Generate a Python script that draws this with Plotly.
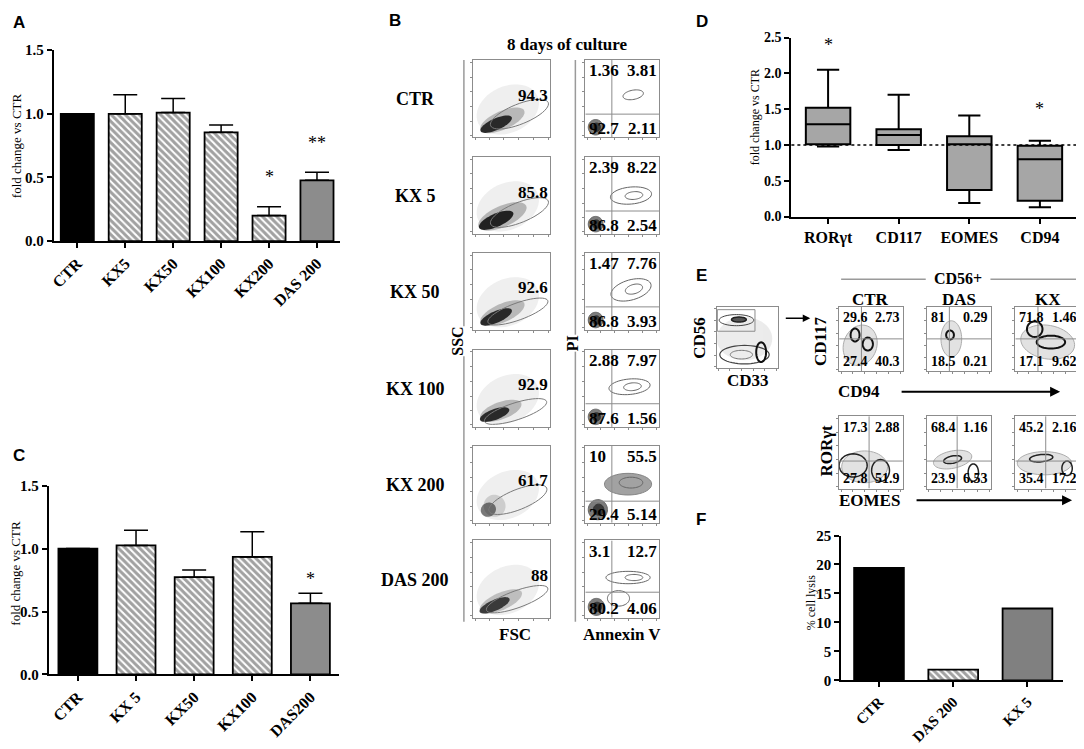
import numpy as np
import plotly.graph_objects as go

# the page body keeps its default 8px margin, so the figure is placed at (8, 8)
PAGE_W, PAGE_H = 1084, 749
OFF = 8
W, H = PAGE_W - OFF, PAGE_H - OFF
SERIF = "Liberation Serif"
SANS = "Liberation Sans"

# ---- A: fold change vs CTR ----
a_groups = ["CTR", "KX5", "KX50", "KX100", "KX200", "DAS 200"]
a_values = [1.0, 1.0, 1.01, 0.855, 0.20, 0.477]
a_err = [0.0, 0.15, 0.11, 0.058, 0.07, 0.064]
a_star_y = [None, None, None, None, 0.50, 0.77]
a_stars = ["", "", "", "", "*", "**"]

# ---- C: fold change vs CTR ----
c_groups = ["CTR", "KX 5", "KX50", "KX100", "DAS200"]
c_values = [1.0, 1.025, 0.773, 0.934, 0.565]
c_err = [0.0, 0.12, 0.057, 0.20, 0.08]
c_star_y = [None, None, None, None, 0.76]
c_stars = ["", "", "", "", "*"]

# ---- D: box plots ----
d_markers = ["RORγt", "CD117", "EOMES", "CD94"]
d_min = [0.98, 0.93, 0.19, 0.13]
d_q1 = [1.01, 1.00, 0.37, 0.22]
d_med = [1.29, 1.14, 1.01, 0.80]
d_q3 = [1.52, 1.22, 1.12, 0.99]
d_max = [2.05, 1.70, 1.41, 1.06]
d_star_y = [2.39, None, None, 1.50]
d_stars = ["*", "", "", "*"]

# ---- F: % cell lysis ----
f_groups = ["CTR", "DAS 200", "KX 5"]
f_lysis = [19.4, 1.85, 12.4]

# ---- B: flow cytometry, 8 days of culture ----
b_conditions = ["CTR", "KX 5", "KX 50", "KX 100", "KX 200", "DAS 200"]
b_gate_pct = ["94.3", "85.8", "92.6", "92.9", "61.7", "88"]
b_ul = ["1.36", "2.39", "1.47", "2.88", "10", "3.1"]
b_ur = ["3.81", "8.22", "7.76", "7.97", "55.5", "12.7"]
b_ll = ["92.7", "86.8", "86.8", "87.6", "29.4", "80.2"]
b_lr = ["2.11", "2.54", "3.93", "1.56", "5.14", "4.06"]

# ---- E: CD56+ phenotype ----
e_conditions = ["CTR", "DAS", "KX"]
e_cd117_cd94 = [["29.6", "2.73", "27.4", "40.3"],
                ["81", "0.29", "18.5", "0.21"],
                ["71.8", "1.46", "17.1", "9.62"]]
e_ror_eomes = [["17.3", "2.88", "27.8", "51.9"],
               ["68.4", "1.16", "23.9", "6.53"],
               ["45.2", "2.16", "35.4", "17.2"]]

# sketch of the cell populations drawn in the flow plots (cx, cy, rx, ry, angle)
fsc_core = [(0.30, 0.17, 0.22, 0.075, 24, 0.9), (0.30, 0.18, 0.24, 0.085, 24, 0.95),
            (0.30, 0.17, 0.22, 0.075, 24, 0.9), (0.28, 0.16, 0.20, 0.07, 20, 0.9),
            (0.20, 0.17, 0.10, 0.09, 30, 0.55), (0.28, 0.16, 0.21, 0.07, 24, 0.8)]
fsc_gate = [(0.60, 0.30, 0.40, 0.13, 22), (0.60, 0.28, 0.40, 0.13, 22),
            (0.58, 0.24, 0.41, 0.11, 20), (0.55, 0.20, 0.42, 0.11, 18),
            (0.58, 0.30, 0.40, 0.13, 22), (0.57, 0.24, 0.42, 0.11, 20)]
anx_rings = [[(0.65, 0.55, 0.14, 0.06, 10)],
             [(0.62, 0.50, 0.28, 0.11, 5), (0.66, 0.50, 0.12, 0.05, 5)],
             [(0.62, 0.52, 0.28, 0.13, 15), (0.66, 0.53, 0.12, 0.06, 15)],
             [(0.60, 0.52, 0.28, 0.10, 5), (0.64, 0.52, 0.12, 0.05, 5)],
             [(0.58, 0.50, 0.32, 0.14, 0), (0.62, 0.52, 0.16, 0.07, 0)],
             [(0.58, 0.52, 0.30, 0.08, 0), (0.66, 0.52, 0.12, 0.04, 0), (0.45, 0.25, 0.15, 0.10, 0)]]
anx_core = [(0.14, 0.13, 0.10, 0.10), (0.14, 0.13, 0.10, 0.10), (0.14, 0.13, 0.10, 0.10),
            (0.14, 0.13, 0.10, 0.10), (0.17, 0.17, 0.13, 0.13), (0.15, 0.14, 0.11, 0.11)]
anx_hline = [0.30, 0.30, 0.30, 0.30, 0.28, 0.33]

fig = go.Figure()
annotations = []
shapes = []
axis_n = [0]


def px(v):
    return (v - OFF) / W


def py(v):
    return 1 - (v - OFF) / H


def clamp(v):
    return min(max(v, 0.0), 1.0)


def add_axes(x0, x1, y0, y1, xaxis, yaxis):
    axis_n[0] += 1
    n = axis_n[0]
    sfx = "" if n == 1 else str(n)
    fig.update_layout({
        "xaxis" + sfx: dict(domain=[clamp(px(x0)), clamp(px(x1))], anchor="y" + sfx, **xaxis),
        "yaxis" + sfx: dict(domain=[clamp(py(y1)), clamp(py(y0))], anchor="x" + sfx, **yaxis),
    })
    return "x" + sfx, "y" + sfx


def label(x, y, text, size=16, bold=True, family=SERIF, xanchor="center", angle=0, bg=None):
    annotations.append(dict(
        x=px(x), y=py(y), xref="paper", yref="paper", text=text, showarrow=False,
        xanchor=xanchor, yanchor="middle", textangle=angle, bgcolor=bg, borderpad=0,
        font=dict(family=family, size=size, color="black", weight="bold" if bold else "normal")))


def ellipse(cx, cy, rx, ry, ang=0, n=48):
    t = np.linspace(0, 2 * np.pi, n, endpoint=False)
    a = np.radians(ang)
    xs = cx + rx * np.cos(t) * np.cos(a) - ry * np.sin(t) * np.sin(a)
    ys = cy + rx * np.cos(t) * np.sin(a) + ry * np.sin(t) * np.cos(a)
    return "M " + " L ".join(f"{x:.4f},{y:.4f}" for x, y in zip(xs, ys)) + " Z"


def blob(xa, ya, e, line="#555", fill=None, width=1, opacity=1.0):
    shapes.append(dict(type="path", path=ellipse(*e), xref=xa, yref=ya,
                       line=dict(color=line, width=width), fillcolor=fill, opacity=opacity))


def quadrant(xa, ya, vx, hy, color="#8c8c8c"):
    shapes.append(dict(type="line", xref=xa, yref=ya, x0=vx, x1=vx, y0=0, y1=1,
                       line=dict(color=color, width=1)))
    shapes.append(dict(type="line", xref=xa, yref=ya, x0=0, x1=1, y0=hy, y1=hy,
                       line=dict(color=color, width=1)))


def stars(xa, ya, groups, heights, marks):
    for g, sy, s in zip(groups, heights, marks):
        if s:
            annotations.append(dict(x=g, y=sy, xref=xa, yref=ya, text=s, showarrow=False,
                                    font=dict(family=SERIF, size=18, color="black")))


line_ax = dict(showline=True, linecolor="black", linewidth=2, ticks="outside", ticklen=5,
               tickwidth=2, tickcolor="black", showgrid=False, zeroline=False, fixedrange=True)
bold_tick = dict(family=SERIF, size=15, color="black", weight="bold")
flow_ax = dict(range=[0, 1], showline=True, mirror=True, linecolor="#8c8c8c", linewidth=1,
               ticks="outside", ticklen=2, tickcolor="#8c8c8c",
               tickvals=[0.03, 0.21, 0.4, 0.59, 0.78, 0.97], showticklabels=False,
               showgrid=False, zeroline=False, fixedrange=True)

hatch = dict(fgcolor="black", size=5, solidity=0.6)

# ---------- Panel A ----------
xa, ya = add_axes(49, 337, 43, 238,
                  dict(line_ax, type="category", range=[-0.49, 5.49], tickangle=-45,
                       tickfont=dict(bold_tick, size=16)),
                  dict(line_ax, range=[0, 1.5], tickvals=[0, 0.5, 1.0, 1.5], tickformat=".1f",
                       tickfont=bold_tick))
fig.add_trace(go.Bar(
    x=a_groups, y=a_values, width=0.69, xaxis=xa, yaxis=ya, showlegend=False,
    marker=dict(color=["black", "white", "white", "white", "white", "#8c8c8c"],
                line=dict(color="black", width=1.8),
                pattern=dict(hatch, shape=["", "\\", "\\", "\\", "\\", ""])),
    error_y=dict(type="data", symmetric=False, array=a_err, arrayminus=[0] * len(a_err),
                 color="black", thickness=1.5, width=12)))
stars(xa, ya, a_groups, a_star_y, a_stars)
label(11, 140, "fold change vs CTR", size=13, bold=False, angle=-90)
label(7, 15, "A", size=17, family=SANS, xanchor="left")

# ---------- Panel C ----------
xa, ya = add_axes(44, 336, 488, 681,
                  dict(line_ax, type="category", range=[-0.5, 4.5], tickangle=-45,
                       tickfont=dict(bold_tick, size=16)),
                  dict(line_ax, range=[0, 1.5], tickvals=[0, 0.5, 1.0, 1.5], tickformat=".1f",
                       tickfont=bold_tick))
fig.add_trace(go.Bar(
    x=c_groups, y=c_values, width=0.67, xaxis=xa, yaxis=ya, showlegend=False,
    marker=dict(color=["black", "white", "white", "white", "#8c8c8c"],
                line=dict(color="black", width=1.8),
                pattern=dict(hatch, shape=["", "\\", "\\", "\\", ""])),
    error_y=dict(type="data", symmetric=False, array=c_err, arrayminus=[0] * len(c_err),
                 color="black", thickness=1.5, width=12)))
stars(xa, ya, c_groups, c_star_y, c_stars)
label(11, 577, "fold change vs CTR", size=13, bold=False, angle=-90)
label(7, 457, "C", size=17, family=SANS, xanchor="left")

# ---------- Panel D ----------
xa, ya = add_axes(790, 1078, 30, 213,
                  dict(line_ax, type="category", range=[-0.52, 3.54],
                       tickfont=dict(bold_tick, size=16)),
                  dict(line_ax, range=[0, 2.5], tickvals=[0, 0.5, 1.0, 1.5, 2.0, 2.5],
                       tickformat=".1f", tickfont=dict(bold_tick, size=14)))
fig.add_trace(go.Box(
    x=d_markers, q1=d_q1, median=d_med, q3=d_q3, lowerfence=d_min, upperfence=d_max,
    xaxis=xa, yaxis=ya, showlegend=False, boxpoints=False, width=0.63, whiskerwidth=0.5,
    fillcolor="#a6a6a6", line=dict(color="black", width=2)))
shapes.append(dict(type="line", xref=xa + " domain", yref=ya, x0=0, x1=1, y0=1, y1=1,
                   line=dict(color="black", width=1.5, dash="dot")))
stars(xa, ya, d_markers, d_star_y, d_stars)
label(753, 112, "fold change vs CTR", size=12, bold=False, angle=-90)
label(693, 14, "D", size=17, family=SANS, xanchor="left")

# ---------- Panel F ----------
xa, ya = add_axes(840, 1063, 539, 687,
                  dict(line_ax, type="category", range=[-0.51, 2.48], tickangle=-45,
                       tickfont=dict(bold_tick, size=15)),
                  dict(line_ax, range=[0, 25], tickvals=[0, 5, 10, 15, 20, 25],
                       tickfont=bold_tick))
fig.add_trace(go.Bar(
    x=f_groups, y=f_lysis, width=0.67, xaxis=xa, yaxis=ya, showlegend=False,
    marker=dict(color=["black", "white", "#808080"], line=dict(color="black", width=1.8),
                pattern=dict(hatch, shape=["", "\\", ""]))))
label(810, 607, "% cell lysis", size=12, bold=False, angle=-90)
label(693, 523, "F", size=17, family=SANS, xanchor="left")

# ---------- Panel B ----------
label(385, 13, "B", size=17, family=SANS, xanchor="left")
label(565, 37, "8 days of culture", size=17)
b_tops = [53, 152, 250, 349, 447, 544]
for i, top in enumerate(b_tops):
    bot = top + 79
    label(412, top + 40, b_conditions[i], size=18)
    # FSC / SSC
    xa, ya = add_axes(470, 548, top, bot, flow_ax, flow_ax)
    blob(xa, ya, (0.45, 0.36, 0.42, 0.30, 25), line="rgba(0,0,0,0)", fill="#e4e4e4", opacity=0.6)
    cx, cy, rx, ry, ang, op = fsc_core[i]
    blob(xa, ya, (cx + 0.08, cy + 0.05, rx * 1.4, ry * 1.6, ang), line="rgba(0,0,0,0)",
         fill="#8a8a8a", opacity=op * 0.6)
    blob(xa, ya, (cx, cy, rx, ry, ang), line="rgba(0,0,0,0)", fill="#1a1a1a", opacity=op)
    blob(xa, ya, fsc_gate[i], line="#7a7a7a", width=1)
    label(546, top + 36, b_gate_pct[i], size=17, xanchor="right")
    # Annexin V / PI
    xa, ya = add_axes(583, 657, top, bot, flow_ax, flow_ax)
    for j, r in enumerate(anx_rings[i]):
        if i == 4 and j == 0:
            blob(xa, ya, r, line="#666", fill="#8c8c8c", opacity=0.8)
        else:
            blob(xa, ya, r, line="#666", width=1)
    cx, cy, rx, ry = anx_core[i]
    blob(xa, ya, (cx, cy, rx, ry, 0), line="#555", fill="#6e6e6e", opacity=0.9)
    blob(xa, ya, (cx + 0.01, cy, rx * 0.55, ry * 0.55, 0), line="#333", fill="#3a3a3a")
    quadrant(xa, ya, 0.36, anx_hline[i])
    label(586, top + 11, b_ul[i], size=17, xanchor="left")
    label(656, top + 11, b_ur[i], size=17, xanchor="right")
    label(586, bot - 9, b_ll[i], size=17, xanchor="left")
    label(656, bot - 9, b_lr[i], size=17, xanchor="right")

for gx in (461, 573):
    shapes.append(dict(type="line", xref="paper", yref="paper", x0=px(gx), x1=px(gx),
                       y0=py(53), y1=py(627), line=dict(color="#9a9a9a", width=1.5)))
label(455, 340, "SSC", size=16, angle=-90, bg="white")
label(570, 342, "PI", size=16, angle=-90, bg="white")
label(512, 640, "FSC", size=17)
label(620, 640, "Annexin V", size=17)

# ---------- Panel E ----------
label(693, 273, "E", size=17, family=SANS, xanchor="left")
label(957, 276, "CD56+", size=16)
for x0, x1 in ((840, 925), (990, 1078)):
    shapes.append(dict(type="line", xref="paper", yref="paper", x0=px(x0), x1=px(x1),
                       y0=py(277), y1=py(277), line=dict(color="#9a9a9a", width=1.5)))

# CD56 vs CD33 gating plot
xa, ya = add_axes(715, 777, 305, 368, flow_ax, flow_ax)
blob(xa, ya, (0.45, 0.48, 0.45, 0.35, 0), line="rgba(0,0,0,0)", fill="#c8c8c8", opacity=0.35)
blob(xa, ya, (0.32, 0.78, 0.28, 0.09, 0), line="#444", width=1)
blob(xa, ya, (0.36, 0.79, 0.12, 0.04, 0), line="#222", fill="#555", width=1.5)
blob(xa, ya, (0.45, 0.22, 0.40, 0.15, 0), line="#444", width=1.2)
blob(xa, ya, (0.40, 0.22, 0.18, 0.07, 0), line="#777", width=1)
blob(xa, ya, (0.72, 0.26, 0.08, 0.16, 0), line="#111", width=2)
shapes.append(dict(type="rect", xref=xa, yref=ya, x0=0.01, x1=0.62, y0=0.60, y1=0.95,
                   line=dict(color="#8c8c8c", width=1)))
label(698, 337, "CD56", size=17, angle=-90)
label(746, 381, "CD33", size=17)
annotations.append(dict(x=px(809), y=py(317), xref="paper", yref="paper", text="",
                        showarrow=True, ax=-26, ay=0, arrowhead=2, arrowsize=1,
                        arrowwidth=1.5, arrowcolor="black"))

e_cols = [(838, 902), (926, 991), (1015, 1080)]
e_row1_pop = [[(0.33, 0.40, 0.26, 0.32, -20), (0.25, 0.56, 0.07, 0.10, 0), (0.45, 0.42, 0.08, 0.10, 0)],
              [(0.38, 0.50, 0.16, 0.28, 0), (0.36, 0.56, 0.06, 0.07, 0)],
              [(0.50, 0.45, 0.42, 0.26, -10), (0.30, 0.65, 0.12, 0.12, 0), (0.55, 0.45, 0.22, 0.10, 0)]]
e_row2_pop = [[(0.40, 0.30, 0.36, 0.22, 0), (0.22, 0.32, 0.22, 0.16, 0), (0.65, 0.25, 0.14, 0.15, 0)],
              [(0.40, 0.40, 0.30, 0.12, 10), (0.72, 0.22, 0.08, 0.12, 0), (0.40, 0.40, 0.14, 0.05, 10)],
              [(0.45, 0.35, 0.42, 0.16, 0), (0.40, 0.42, 0.18, 0.05, 5), (0.80, 0.28, 0.08, 0.10, 0)]]
for k, (x0, x1) in enumerate(e_cols):
    label((x0 + x1) / 2, 298, e_conditions[k], size=17)
    # CD117 vs CD94
    xa, ya = add_axes(x0, x1, 305, 371, flow_ax, flow_ax)
    for j, e in enumerate(e_row1_pop[k]):
        if j == 0:
            blob(xa, ya, e, line="#777", fill="#cfcfcf", opacity=0.6)
        else:
            blob(xa, ya, e, line="#111", width=2)
    quadrant(xa, ya, 0.35, 0.50)
    vals = e_cd117_cd94[k]
    label(x0 + 3, 316, vals[0], size=14, xanchor="left")
    label(x1 - 2, 316, vals[1], size=14, xanchor="right")
    label(x0 + 3, 361, vals[2], size=14, xanchor="left")
    label(x1 - 2, 361, vals[3], size=14, xanchor="right")
    # RORgt vs EOMES
    xa, ya = add_axes(x0, x1, 417, 491, flow_ax, flow_ax)
    for j, e in enumerate(e_row2_pop[k]):
        if j == 0:
            blob(xa, ya, e, line="#777", fill="#cfcfcf", opacity=0.6)
        else:
            blob(xa, ya, e, line="#222", width=1.5)
    quadrant(xa, ya, 0.47, 0.38)
    vals = e_ror_eomes[k]
    label(x0 + 3, 429, vals[0], size=14, xanchor="left")
    label(x1 - 2, 429, vals[1], size=14, xanchor="right")
    label(x0 + 3, 481, vals[2], size=14, xanchor="left")
    label(x1 - 2, 481, vals[3], size=14, xanchor="right")

label(820, 340, "CD117", size=17, angle=-90)
label(858, 392, "CD94", size=17)
label(825, 452, "RORγt", size=17, angle=-90)
label(869, 503, "EOMES", size=17)
for y, x_tail, x_head in ((392, 900, 1060), (503, 915, 1072)):
    annotations.append(dict(x=px(x_head), y=py(y), xref="paper", yref="paper", text="",
                            showarrow=True, ax=x_tail - x_head, ay=0, arrowhead=2,
                            arrowsize=1, arrowwidth=2, arrowcolor="black"))

fig.update_layout(
    width=W, height=H, margin=dict(l=0, r=0, t=0, b=0),
    paper_bgcolor="white", plot_bgcolor="white",
    annotations=annotations, shapes=shapes,
)

fig.write_html("out.html")
